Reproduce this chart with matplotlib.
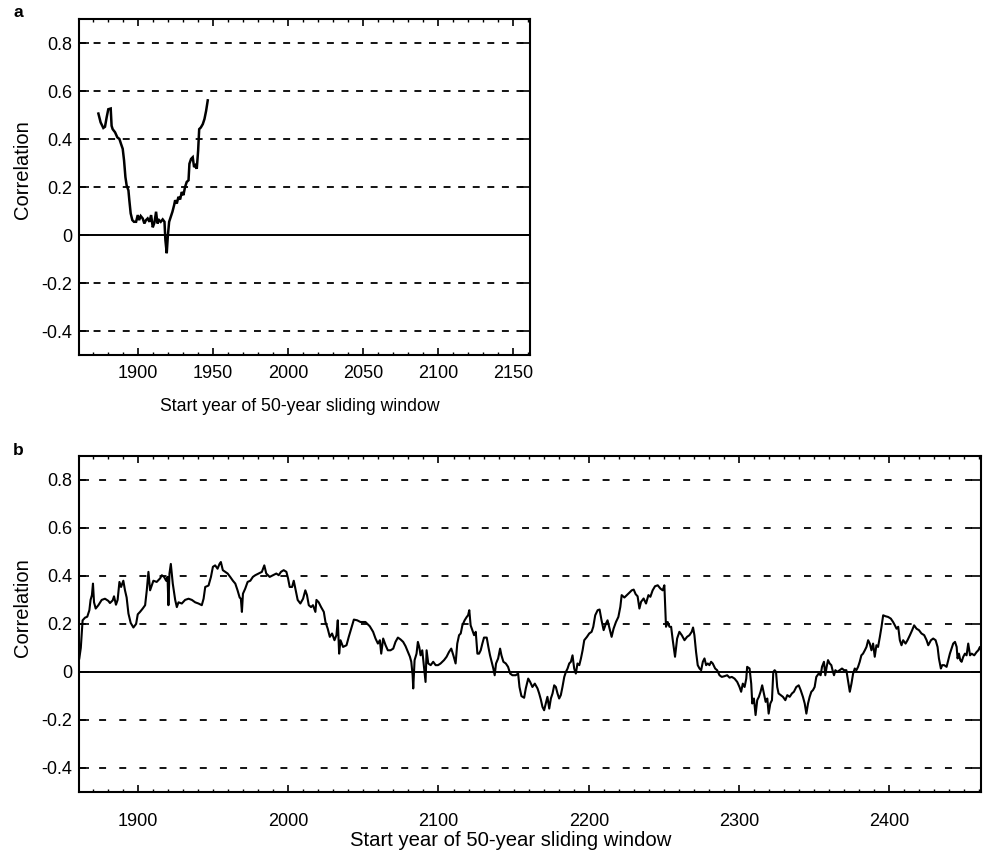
import matplotlib
matplotlib.use("Agg")
import matplotlib.pyplot as plt
from matplotlib.ticker import MultipleLocator, FixedLocator, FuncFormatter

plt.rcParams['font.family'] = ['Liberation Sans', 'DejaVu Sans']
plt.rcParams['axes.unicode_minus'] = False
plt.rcParams['lines.scale_dashes'] = False

# ---------------- data ----------------
# Panel a: start year / correlation
years_a = [1873.7, 1875.2, 1877.0, 1878.1, 1879.2, 1880.3, 1881.9, 1882.5, 1883.2, 1884.8,
           1886.3, 1887.7, 1888.8, 1889.9, 1890.8, 1891.7, 1892.5, 1893.7, 1894.3, 1895.2,
           1896.3, 1897.4, 1898.8, 1899.9, 1900.8, 1901.9, 1903.2, 1904.3, 1905.4, 1906.5,
           1907.7, 1908.8, 1909.9, 1911.0, 1912.1, 1913.0, 1914.1, 1915.2, 1916.5, 1917.7,
           1918.3, 1919.2, 1919.9, 1920.8, 1921.9, 1923.0, 1924.1, 1924.8, 1925.9, 1927.0,
           1928.1, 1929.2, 1930.3, 1931.4, 1932.5, 1933.7, 1934.3, 1935.4, 1936.5, 1937.4,
           1938.3, 1939.2, 1940.1, 1940.8, 1941.9, 1943.2, 1944.3, 1945.4, 1946.5]
corr_a = [0.506, 0.469, 0.446, 0.451, 0.490, 0.524, 0.527, 0.455, 0.441, 0.428,
          0.407, 0.400, 0.379, 0.359, 0.310, 0.241, 0.207, 0.186, 0.145, 0.090,
          0.062, 0.055, 0.055, 0.083, 0.062, 0.079, 0.069, 0.048, 0.062, 0.069,
          0.055, 0.083, 0.032, 0.051, 0.097, 0.048, 0.062, 0.055, 0.065, 0.055,
          -0.021, -0.076, -0.007, 0.055, 0.076, 0.097, 0.124, 0.145, 0.131, 0.159,
          0.148, 0.179, 0.166, 0.200, 0.221, 0.228, 0.297, 0.317, 0.324, 0.283,
          0.290, 0.276, 0.352, 0.441, 0.448, 0.462, 0.483, 0.517, 0.561]

# Panel b: start year / correlation
years_b = [1861.0, 1862.0, 1863.2, 1864.8, 1866.3, 1867.7, 1868.5, 1869.4, 1870.1, 1870.8,
           1871.9, 1873.7, 1875.9, 1878.1, 1880.3, 1881.4, 1883.2, 1884.1, 1885.4, 1886.5,
           1887.7, 1888.8, 1890.3, 1891.4, 1892.5, 1893.7, 1895.2, 1897.0, 1898.8, 1899.9,
           1901.4, 1903.2, 1904.8, 1905.9, 1907.0, 1908.1, 1909.2, 1910.3, 1912.5, 1914.8,
           1915.9, 1917.4, 1918.8, 1919.7, 1920.3, 1921.0, 1921.9, 1923.2, 1924.8, 1925.9,
           1927.0, 1929.2, 1931.4, 1933.7, 1935.9, 1938.1, 1940.3, 1942.5, 1943.7, 1944.8,
           1947.0, 1948.6, 1949.9, 1951.4, 1953.0, 1954.3, 1955.2, 1956.5, 1958.1, 1959.7,
           1961.4, 1963.2, 1964.8, 1966.3, 1967.7, 1968.5, 1969.2, 1969.9, 1971.4, 1973.0,
           1974.8, 1976.5, 1978.1, 1980.3, 1982.5, 1984.1, 1985.4, 1987.7, 1989.9, 1992.1,
           1993.7, 1995.2, 1997.0, 1998.8, 1999.9, 2001.0, 2002.6, 2003.7, 2004.8, 2006.3,
           2008.1, 2009.9, 2011.4, 2012.5, 2013.7, 2015.2, 2016.5, 2018.1, 2018.8, 2020.3,
           2021.9, 2023.7, 2024.8, 2026.3, 2027.7, 2029.2, 2030.8, 2032.1, 2033.0, 2033.9,
           2034.8, 2036.5, 2038.8, 2040.3, 2041.9, 2043.7, 2045.9, 2048.1,
           2051.4, 2054.3, 2056.5, 2058.1, 2059.7, 2061.0, 2061.9, 2063.2, 2064.8, 2066.3,
           2068.1, 2069.9, 2071.4, 2073.0, 2074.8, 2076.5, 2078.1, 2079.7, 2081.0, 2081.9,
           2082.8, 2083.2, 2084.1, 2085.4, 2086.3, 2087.2, 2088.1, 2089.2, 2089.9, 2090.8,
           2091.4, 2092.1, 2093.2, 2094.8, 2096.5, 2098.1, 2099.7, 2101.4, 2103.7, 2105.4,
           2107.0, 2108.5, 2109.9, 2111.4, 2112.5, 2113.7, 2114.8, 2115.9, 2117.4, 2118.8,
           2119.7, 2120.5, 2121.4, 2122.5, 2123.7, 2124.8, 2125.9, 2127.0, 2128.1, 2129.2,
           2130.3, 2132.1, 2133.2, 2134.3, 2135.4, 2136.5, 2137.4, 2138.3, 2139.7, 2141.0,
           2141.9, 2143.2, 2144.8, 2146.3, 2147.7, 2149.2, 2151.4, 2153.0, 2153.9, 2155.2,
           2157.0, 2158.1, 2159.7, 2161.0, 2162.5, 2164.1, 2165.9, 2167.0, 2168.1, 2169.2,
           2170.3, 2171.4, 2172.5, 2173.7, 2174.8, 2175.9, 2177.0, 2178.1, 2179.2, 2180.3,
           2181.4, 2182.5, 2183.7, 2184.8, 2185.9, 2187.0, 2188.1, 2189.2, 2190.3, 2191.4,
           2192.5, 2193.7, 2194.8, 2195.9, 2197.0, 2198.8, 2200.3, 2201.9, 2203.0, 2204.3,
           2205.9, 2207.2, 2208.5, 2209.9, 2211.4, 2212.5, 2213.9, 2215.2, 2216.5, 2218.1,
           2219.7, 2221.0, 2221.9, 2223.7, 2225.4, 2227.0, 2228.6, 2229.9, 2231.2, 2232.5,
           2233.7, 2234.8, 2236.5, 2238.1, 2239.7, 2241.0, 2242.5, 2244.1, 2245.9, 2247.7,
           2249.2, 2250.3, 2251.4, 2252.5, 2253.7, 2254.8, 2255.9, 2257.4, 2258.8, 2260.3,
           2261.9, 2263.7, 2265.4, 2267.0, 2268.5, 2269.4, 2270.3, 2271.4, 2272.5, 2273.7,
           2274.8, 2275.9, 2277.0, 2278.1, 2279.2, 2280.3, 2281.4, 2282.5, 2284.1, 2285.4,
           2287.0, 2288.5, 2290.3, 2292.1, 2293.7, 2295.2, 2297.0, 2298.8, 2300.3, 2301.4,
           2302.5, 2303.7, 2304.8, 2305.4, 2307.0, 2308.1, 2308.8, 2309.9, 2311.0, 2312.1,
           2313.2, 2314.3, 2315.4, 2316.5, 2317.7, 2318.8, 2319.7, 2320.8, 2321.9, 2322.8,
           2323.7, 2324.6, 2325.4, 2326.3, 2327.7, 2329.2, 2330.8, 2332.1, 2333.7, 2335.2,
           2336.5, 2338.1, 2339.7, 2341.0, 2342.5, 2343.7, 2344.8, 2345.9, 2347.0, 2348.1,
           2349.2, 2350.3, 2351.4, 2353.0, 2354.3, 2355.2, 2356.5, 2357.4, 2358.3, 2359.2,
           2360.3, 2361.4, 2362.5, 2363.2, 2364.1, 2365.4, 2367.0, 2368.5, 2369.9, 2371.4,
           2372.5, 2373.7, 2374.8, 2375.9, 2377.0, 2378.1, 2379.2, 2380.3, 2381.4, 2382.5,
           2383.7, 2384.8, 2385.9, 2387.0, 2388.1, 2389.2, 2390.3, 2391.4, 2392.5, 2393.7,
           2394.8, 2395.9, 2397.4, 2399.2, 2401.0, 2402.5, 2403.7, 2404.8, 2405.9, 2407.0,
           2408.1, 2409.2, 2410.8, 2412.1, 2413.7, 2415.2, 2416.5, 2418.1, 2419.7, 2421.4,
           2423.2, 2424.8, 2425.9, 2427.7, 2429.2, 2430.8, 2432.1, 2433.0, 2434.3, 2435.2,
           2436.5, 2438.1, 2439.2, 2440.3, 2441.4, 2442.5, 2443.7, 2444.8, 2445.4, 2446.3,
           2447.2, 2448.1, 2449.2, 2450.3, 2451.4, 2452.5, 2453.7, 2454.8, 2456.5, 2458.1,
           2459.2, 2460.3, 2461.0]
corr_b = [0.056, 0.100, 0.215, 0.226, 0.230, 0.257, 0.300, 0.320, 0.368, 0.290,
          0.264, 0.278, 0.300, 0.305, 0.296, 0.287, 0.298, 0.315, 0.280, 0.300,
          0.375, 0.354, 0.380, 0.340, 0.310, 0.243, 0.204, 0.185, 0.200, 0.240,
          0.250, 0.264, 0.278, 0.340, 0.417, 0.340, 0.360, 0.380, 0.375, 0.390,
          0.403, 0.396, 0.380, 0.396, 0.278, 0.410, 0.450, 0.368, 0.300, 0.270,
          0.290, 0.285, 0.300, 0.305, 0.300, 0.290, 0.285, 0.278, 0.305, 0.354,
          0.360, 0.396, 0.438, 0.444, 0.430, 0.450, 0.458, 0.424, 0.417, 0.410,
          0.396, 0.380, 0.368, 0.340, 0.310, 0.305, 0.250, 0.326, 0.347, 0.375,
          0.380, 0.396, 0.403, 0.410, 0.417, 0.444, 0.410, 0.396, 0.403, 0.410,
          0.403, 0.417, 0.424, 0.417, 0.390, 0.354, 0.354, 0.380, 0.347, 0.300,
          0.285, 0.305, 0.340, 0.320, 0.278, 0.270, 0.278, 0.250, 0.300, 0.290,
          0.270, 0.250, 0.208, 0.180, 0.146, 0.160, 0.132, 0.153, 0.215, 0.076,
          0.132, 0.104, 0.111, 0.146, 0.180, 0.218, 0.215, 0.208,
          0.208, 0.190, 0.167, 0.139, 0.118, 0.132, 0.076, 0.139, 0.111, 0.090,
          0.090, 0.097, 0.125, 0.143, 0.135, 0.125, 0.107, 0.083, 0.063, 0.042,
          -0.014, -0.069, 0.049, 0.076, 0.125, 0.104, 0.069, 0.090, 0.049, 0.000,
          -0.042, 0.090, 0.035, 0.028, 0.042, 0.028, 0.028, 0.035, 0.049, 0.063,
          0.083, 0.097, 0.069, 0.035, 0.118, 0.153, 0.160, 0.194, 0.215, 0.229,
          0.236, 0.257, 0.194, 0.174, 0.153, 0.167, 0.076, 0.076, 0.090, 0.118,
          0.143, 0.143, 0.104, 0.069, 0.042, 0.014, -0.014, 0.035, 0.056, 0.097,
          0.069, 0.042, 0.035, 0.021, -0.007, -0.014, -0.014, -0.007, -0.063, -0.101,
          -0.108, -0.069, -0.028, -0.042, -0.063, -0.049, -0.069, -0.090, -0.115, -0.146,
          -0.160, -0.132, -0.104, -0.153, -0.111, -0.090, -0.056, -0.063, -0.090, -0.111,
          -0.097, -0.063, -0.021, 0.000, 0.014, 0.035, 0.042, 0.069, 0.014, -0.007,
          0.035, 0.028, 0.056, 0.090, 0.132, 0.146, 0.160, 0.167, 0.188, 0.236,
          0.257, 0.260, 0.215, 0.174, 0.201, 0.215, 0.180, 0.146, 0.180, 0.208,
          0.229, 0.271, 0.320, 0.310, 0.320, 0.330, 0.340, 0.343, 0.324, 0.315,
          0.264, 0.292, 0.306, 0.285, 0.320, 0.313, 0.340, 0.357, 0.361, 0.347,
          0.340, 0.361, 0.188, 0.208, 0.188, 0.188, 0.132, 0.063, 0.139, 0.167,
          0.153, 0.132, 0.146, 0.153, 0.167, 0.185, 0.153, 0.083, 0.028, 0.014,
          0.007, 0.042, 0.056, 0.028, 0.035, 0.028, 0.042, 0.035, 0.014, 0.007,
          -0.014, -0.021, -0.018, -0.014, -0.024, -0.021, -0.028, -0.042, -0.063, -0.083,
          -0.049, -0.063, -0.028, 0.021, 0.014, -0.049, -0.132, -0.111, -0.180, -0.118,
          -0.104, -0.083, -0.056, -0.090, -0.125, -0.111, -0.174, -0.132, -0.118, 0.000,
          0.007, 0.000, -0.063, -0.090, -0.097, -0.104, -0.118, -0.097, -0.104, -0.090,
          -0.083, -0.063, -0.056, -0.076, -0.104, -0.132, -0.174, -0.132, -0.104, -0.083,
          -0.076, -0.063, -0.021, -0.007, -0.014, 0.021, 0.042, -0.014, 0.021, 0.049,
          0.035, 0.028, 0.000, -0.014, 0.007, 0.000, 0.007, 0.014, 0.007, 0.007,
          -0.035, -0.083, -0.049, -0.007, 0.014, 0.007, 0.021, 0.042, 0.069, 0.076,
          0.090, 0.104, 0.132, 0.118, 0.090, 0.118, 0.063, 0.111, 0.104, 0.146,
          0.188, 0.236, 0.232, 0.229, 0.222, 0.208, 0.194, 0.180, 0.188, 0.132,
          0.111, 0.132, 0.118, 0.132, 0.153, 0.174, 0.194, 0.180, 0.174, 0.160,
          0.153, 0.132, 0.111, 0.132, 0.139, 0.132, 0.104, 0.056, 0.014, 0.028,
          0.028, 0.021, 0.049, 0.076, 0.097, 0.118, 0.125, 0.104, 0.056, 0.076,
          0.049, 0.042, 0.063, 0.076, 0.069, 0.118, 0.069, 0.076, 0.069, 0.083,
          0.090, 0.104, 0.090]

y_ticks = [-0.4, -0.2, 0, 0.2, 0.4, 0.6, 0.8]
grid_levels = [-0.4, -0.2, 0.2, 0.4, 0.6, 0.8]
x_major_a = [1900, 1950, 2000, 2050, 2100, 2150]
x_major_b = [1900, 2000, 2100, 2200, 2300, 2400]
xlabel_text = "Start year of 50-year sliding window"
ylabel_text = "Correlation"

# ---------------- figure ----------------
W, H = 989, 859
fig = plt.figure(figsize=(W / 100, H / 100), dpi=100)

def px_axes(left, top, right, bottom):
    return fig.add_axes([left / W, 1 - bottom / H, (right - left) / W, (bottom - top) / H])

ax_a = px_axes(79.3, 19, 530, 355)
ax_b = px_axes(79.3, 456, 981, 791.8)


def yfmt(v, pos):
    if abs(v) < 1e-9:
        return "0"
    return f"{v:.1f}"


def style(ax, xlim, xmajor, dash, xpad, xlabel_size, xlabel_coords, ylabel_coords):
    ax.set_xlim(*xlim)
    ax.set_ylim(-0.5, 0.9)
    for lvl in grid_levels:
        ax.axhline(lvl, color='black', lw=1.3, linestyle=(0, dash), zorder=1)
    ax.axhline(0, color='black', lw=1.4, zorder=1)
    for s in ax.spines.values():
        s.set_linewidth(1.5)
    ax.xaxis.set_major_locator(FixedLocator(xmajor))
    ax.xaxis.set_minor_locator(MultipleLocator(10))
    ax.yaxis.set_major_locator(FixedLocator(y_ticks))
    ax.yaxis.set_major_formatter(FuncFormatter(yfmt))
    ax.tick_params(axis='x', which='major', direction='in', length=5, width=1.2,
                   top=True, bottom=True, labelsize=13, pad=xpad)
    ax.tick_params(axis='x', which='minor', direction='in', length=2.5, width=1.0,
                   top=True, bottom=True)
    ax.tick_params(axis='y', which='major', direction='in', length=7.5, width=1.2,
                   left=True, right=True, labelsize=13, pad=5)
    ax.set_xlabel(xlabel_text, fontsize=xlabel_size)
    ax.xaxis.set_label_coords(*xlabel_coords)
    ax.set_ylabel(ylabel_text, fontsize=14.5)
    ax.yaxis.label.set_va('center')
    ax.yaxis.set_label_coords(*ylabel_coords)


style(ax_a, (1861, 2161), x_major_a, (5, 5.5), 7.0, 12.7,
      ((300 - 79.3) / 450.7, -(398 - 355) / 336), ((23 - 79.3) / 450.7, 0.551))
style(ax_b, (1861, 2461), x_major_b, (5, 9.5), 15.0, 14.6,
      ((510.5 - 79.3) / 901.7, -(831 - 791.8) / 335.8), ((23 - 79.3) / 901.7, 0.547))

ax_a.plot(years_a, corr_a, color='black', lw=1.8, zorder=3, solid_joinstyle='miter')
ax_b.plot(years_b, corr_b, color='black', lw=1.5, zorder=3)

fig.text(13 / W, 1 - 17 / H, 'a', fontsize=12.5, fontweight='bold', va='baseline', ha='left')
fig.text(13 / W, 1 - 455 / H, 'b', fontsize=12.5, fontweight='bold', va='baseline', ha='left')

fig.savefig("out.png", dpi=100)
